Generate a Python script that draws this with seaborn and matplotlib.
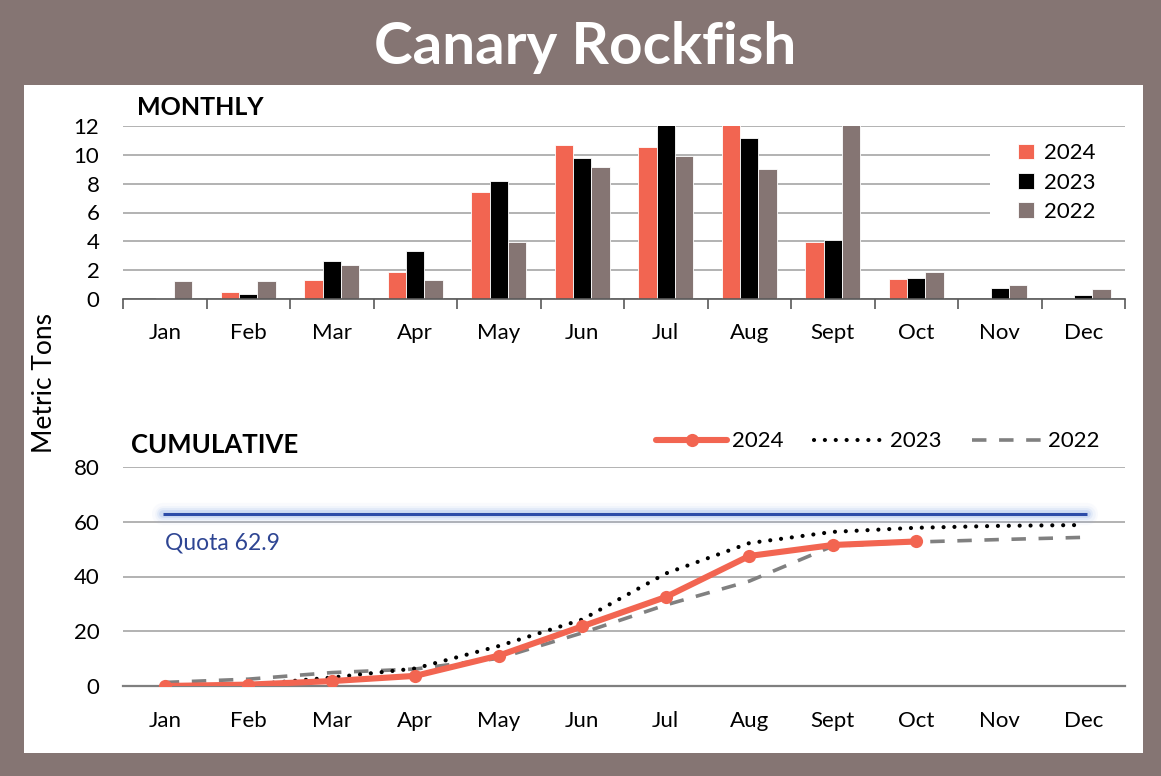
import numpy as np
import pandas as pd
import matplotlib
matplotlib.use("Agg")
import matplotlib.pyplot as plt
from matplotlib.patches import Rectangle
import seaborn as sns

months = ["Jan", "Feb", "Mar", "Apr", "May", "Jun", "Jul", "Aug", "Sept", "Oct", "Nov", "Dec"]
years = ["2024", "2023", "2022"]

monthly_2024 = [0.0, 0.5, 1.34, 1.89, 7.41, 10.68, 10.57, 15.1, 3.95, 1.38, np.nan, np.nan]
monthly_2023 = [0.1, 0.32, 2.65, 3.32, 8.19, 9.76, 16.8, 11.15, 4.08, 1.45, 0.78, 0.28]
monthly_2022 = [1.27, 1.22, 2.35, 1.31, 3.95, 9.14, 9.95, 9.02, 12.9, 1.87, 0.97, 0.71]

cum_2024 = [0.0, 0.5, 1.8, 3.7, 11.1, 21.8, 32.5, 47.5, 51.5, 52.8, np.nan, np.nan]
cum_2023 = [0.1, 0.4, 3.1, 6.4, 14.6, 24.3, 41.1, 52.2, 56.3, 57.8, 58.5, 58.8]
cum_2022 = [1.3, 2.5, 4.9, 6.2, 10.1, 19.4, 29.6, 38.3, 51.1, 52.6, 53.5, 54.3]

quota = 62.9

BG = "#857573"
C24 = "#F26551"
C23 = "#000000"
C22 = "#857573"
GRID = "#A6A6A6"

sns.set_theme(style="white")
plt.rcParams["font.family"] = ["Lato", "DejaVu Sans"]

fig = plt.figure(figsize=(11.61, 7.76), dpi=100, facecolor=BG)
fig.patches.append(Rectangle((24 / 1161, 1 - 753 / 776), (1143 - 24) / 1161, (753 - 85) / 776,
                             transform=fig.transFigure, facecolor="white", edgecolor="none", zorder=-10))
fig.text(585 / 1161, 1 - 47 / 776, "Canary Rockfish", ha="center", va="center",
         color="white", fontsize=42, fontweight="bold")

# ---------- Monthly bars ----------
monthly = pd.DataFrame({
    "month": months * 3,
    "year": sum([[y] * 12 for y in years], []),
    "tons": monthly_2024 + monthly_2023 + monthly_2022,
})
ax1 = fig.add_axes([123 / 1161, 1 - 299 / 776, 1002 / 1161, 173 / 776])
ax1.patch.set_alpha(0)
sns.barplot(data=monthly, x="month", y="tons", hue="year", order=months, hue_order=years,
            palette=[C24, C23, C22], width=0.66, saturation=1, ax=ax1, legend=True,
            edgecolor="white", linewidth=0.6)
ax1.set_ylim(0, 12)
ax1.set_xlim(-0.5, 11.5)
ax1.set_yticks(range(0, 13, 2))
ax1.yaxis.grid(True, color=GRID, linewidth=1.2)
ax1.set_axisbelow(True)
for s in ["top", "right", "left"]:
    ax1.spines[s].set_visible(False)
ax1.spines["bottom"].set_color("#595959")
ax1.spines["bottom"].set_linewidth(1.2)
ax1.set_xlabel("")
ax1.set_ylabel("")
ax1.tick_params(axis="x", which="major", length=0, pad=17, labelsize=16, labelcolor="black")
ax1.set_xticks(np.arange(-0.5, 12, 1), minor=True)
ax1.tick_params(axis="x", which="minor", bottom=True, length=7, width=1.2, color="#595959",
                direction="out")
ax1.tick_params(axis="y", length=0, pad=17, labelsize=16, labelcolor="black")
ax1.text(0.014, 1.04, "MONTHLY", transform=ax1.transAxes, fontsize=18, fontweight="bold",
         ha="left", va="bottom", color="black")
# white backing behind the legend (hides gridlines as in the reference)
ax1.add_patch(Rectangle((0.865, 0.428), 0.135, 0.52, transform=ax1.transAxes,
                        facecolor="white", edgecolor="none", zorder=0.8))
leg1 = ax1.legend(loc="upper left", bbox_to_anchor=(0.893, 0.90), frameon=False, fontsize=16,
                  handlelength=0.72, handleheight=0.72, handletextpad=0.45, labelspacing=0.42,
                  borderpad=0, borderaxespad=0)
for t in leg1.get_texts():
    t.set_color("black")

# ---------- Cumulative lines ----------
ax2 = fig.add_axes([123 / 1161, 1 - 686 / 776, 1002 / 1161, 219 / 776])
ax2.patch.set_alpha(0)
cum = pd.DataFrame({"month": months, "c2024": cum_2024, "c2023": cum_2023, "c2022": cum_2022})

# quota line with glow
for lw, a in [(16, 0.05), (12, 0.08), (8.5, 0.14), (5.5, 0.25)]:
    ax2.hlines(quota, -0.02, 11.05, color="#8FB0E8", linewidth=lw, alpha=a, zorder=2,
               capstyle="round")
ax2.hlines(quota, -0.02, 11.05, color="#2B4BA8", linewidth=2.2, zorder=3)
ax2.text(0.0, quota - 10.5, "Quota 62.9", color="#2E4593", fontsize=16.5, ha="left", va="center")

sns.lineplot(data=cum, x="month", y="c2022", ax=ax2, color="#808080", linewidth=2.6,
             linestyle=(0, (4, 3.5)), label="2022", sort=False, zorder=4)
sns.lineplot(data=cum, x="month", y="c2023", ax=ax2, color="black", linewidth=3,
             linestyle=(0, (0.01, 2.6)), dash_capstyle="round", label="2023", sort=False, zorder=5)
sns.lineplot(data=cum, x="month", y="c2024", ax=ax2, color=C24, linewidth=4.4, marker="o",
             markersize=9.5, markeredgewidth=0, label="2024", sort=False, zorder=6,
             solid_capstyle="round")
ax2.set_ylim(0, 80)
ax2.set_xlim(-0.5, 11.5)
ax2.set_yticks(range(0, 81, 20))
ax2.yaxis.grid(True, color=GRID, linewidth=1.2)
ax2.set_axisbelow(True)
for s in ["top", "right", "left"]:
    ax2.spines[s].set_visible(False)
ax2.spines["bottom"].set_color("#7F7F7F")
ax2.spines["bottom"].set_linewidth(1.6)
ax2.set_xlabel("")
ax2.set_ylabel("")
ax2.tick_params(axis="x", length=0, pad=18, labelsize=16, labelcolor="black")
ax2.tick_params(axis="y", length=0, pad=17, labelsize=16, labelcolor="black")
ax2.text(0.008, 1.045, "CUMULATIVE", transform=ax2.transAxes, fontsize=18.5, fontweight="bold",
         ha="left", va="bottom", color="black")
h, l = ax2.get_legend_handles_labels()
order = [l.index("2024"), l.index("2023"), l.index("2022")]
leg2 = ax2.legend([h[i] for i in order], [l[i] for i in order], loc="lower right",
                  bbox_to_anchor=(0.99, 1.0), ncol=3, frameon=False, fontsize=16,
                  handlelength=3.2, handletextpad=0.2, columnspacing=1.4, borderaxespad=0.3)
for t in leg2.get_texts():
    t.set_color("black")

fig.text(45 / 1161, 1 - 383 / 776, "Metric Tons", rotation=90, ha="center", va="center",
         fontsize=19, color="black")

fig.savefig("out.png", dpi=100, facecolor=BG)
